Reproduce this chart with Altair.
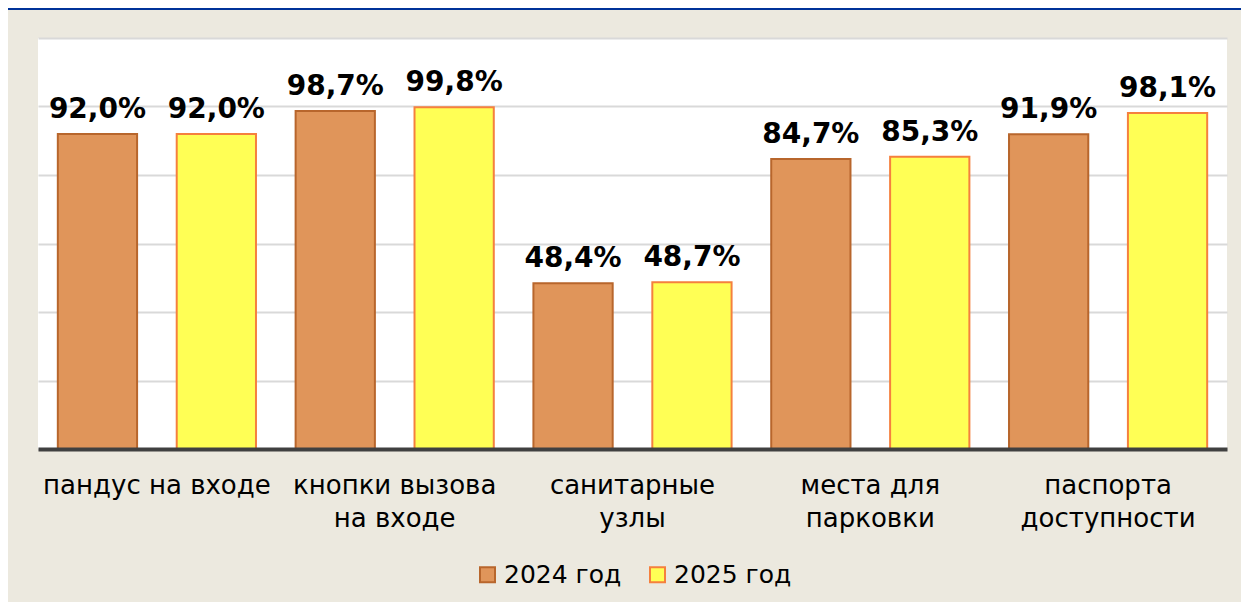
import altair as alt
import pandas as pd

categories = ["пандус на входе", "кнопки вызова\nна входе", "санитарные\nузлы",
              "места для\nпарковки", "паспорта\nдоступности"]
years = ["2024 год", "2025 год"]
values_2024 = [92.0, 98.7, 48.4, 84.7, 91.9]
values_2025 = [92.0, 99.8, 48.7, 85.3, 98.1]

fills = ["#E0955A", "#FFFF55"]
strokes = ["#B8662C", "#F5803E"]

rows = []
for c, v in zip(categories, values_2024):
    rows.append({"category": c, "year": years[0], "value": v})
for c, v in zip(categories, values_2025):
    rows.append({"category": c, "year": years[1], "value": v})
df = pd.DataFrame(rows)

FONT = "DejaVu Sans"

base = alt.Chart(df).encode(
    x=alt.X("category:N", sort=categories,
            scale=alt.Scale(paddingInner=0, paddingOuter=0),
            axis=alt.Axis(title=None, labelAngle=0,
                          labelExpr="split(datum.value, '\\n')",
                          labelFont=FONT, labelFontSize=26, labelColor="#000000",
                          labelLineHeight=33, labelPadding=23, labelLimit=0,
                          ticks=False, tickSize=0,
                          domainColor="#404040", domainWidth=4,
                          grid=False, zindex=1)),
    xOffset=alt.XOffset("year:N", sort=years,
                        scale=alt.Scale(paddingInner=1/3, paddingOuter=1/6)),
    y=alt.Y("value:Q",
            scale=alt.Scale(domain=[0, 120], nice=False),
            axis=alt.Axis(title=None, labels=False, ticks=False, domain=False,
                          values=[0, 20, 40, 60, 80, 100, 120],
                          gridColor="#D9D9D9", gridWidth=2)),
)

legend = alt.Legend(title=None, orient="none", legendX=437, legendY=524,
                    direction="horizontal", symbolType="square", symbolSize=225,
                    symbolStrokeWidth=2, labelFont=FONT, labelFontSize=25,
                    labelColor="#000000", labelOffset=4, columnPadding=23,
                    padding=0)

bars = base.mark_bar(strokeWidth=2).encode(
    fill=alt.Fill("year:N", sort=years,
                  scale=alt.Scale(domain=years, range=fills), legend=legend),
    stroke=alt.Stroke("year:N", sort=years,
                      scale=alt.Scale(domain=years, range=strokes), legend=legend),
)

labels = base.mark_text(font=FONT, fontWeight="bold", fontSize=28, dy=-16,
                        baseline="alphabetic", color="#000000").transform_calculate(
    label="replace(format(datum.value, '.1f'), '.', ',') + '%'"
).encode(text="label:N")

strip = alt.Chart(pd.DataFrame({"a": [0]})).mark_rule(
    color="#003399", strokeWidth=2).encode(
    x=alt.value(-30), x2=alt.value(1203), y=alt.value(-29))

chart = alt.layer(bars, labels, strip).properties(
    width=1189, height=411,
    autosize=alt.AutoSizeParams(type="none"),
    padding={"left": 30, "top": 30, "right": 14, "bottom": 153},
    background="#ECE9DF",
).configure_view(fill="#FFFFFF", stroke=None)

chart.save("out.html", embed_options={"renderer": "svg", "actions": False})
